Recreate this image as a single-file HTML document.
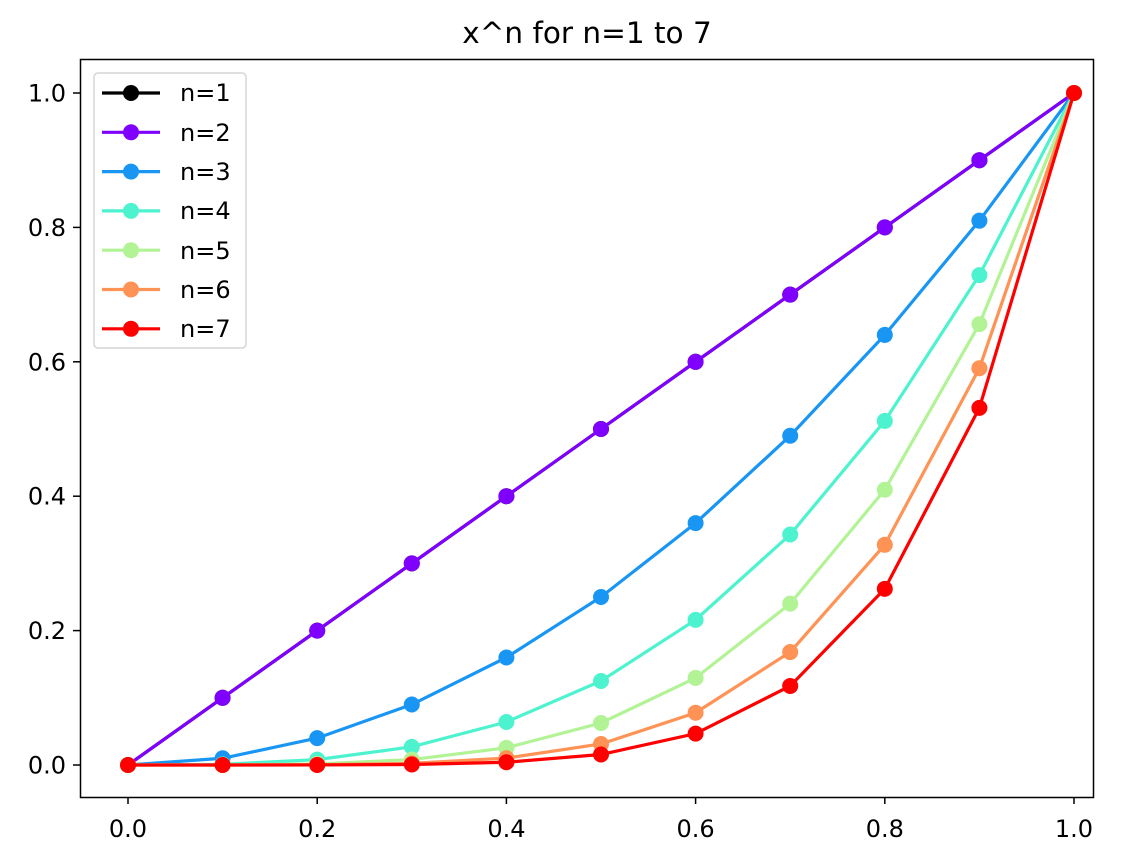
<!DOCTYPE html>
<html><head><meta charset="utf-8"><style>
body{margin:0;background:#fff}
svg{display:block;font-family:"DejaVu Sans","Liberation Sans",sans-serif}
</style></head><body>
<svg id="s" width="1141" height="862" viewBox="0 0 1141 862">
<rect width="1141" height="862" fill="#fff"/>
<text x="587" y="43" font-size="29.5" text-anchor="middle" fill="#000">x^n for n=1 to 7</text>
<g id="ticks" font-size="24" fill="#000"></g>
<g id="series"></g>
<rect x="80.5" y="59.5" width="1013" height="738" fill="none" stroke="#000" stroke-width="1.5"/>
<rect x="94" y="73" width="152" height="275" rx="4" fill="#fff" fill-opacity="0.8" stroke="#d6d6d6" stroke-width="1.5"/>
<g id="leg" font-size="24" fill="#000">
<text x="180" y="101">n=1</text>
<text x="180" y="141">n=2</text>
<text x="180" y="180">n=3</text>
<text x="180" y="219">n=4</text>
<text x="180" y="259">n=5</text>
<text x="180" y="298">n=6</text>
<text x="180" y="337">n=7</text>
</g>
</svg>
<script>
const NS="http://www.w3.org/2000/svg";
function el(t,a,p){const e=document.createElementNS(NS,t);for(const k in a)e.setAttribute(k,a[k]);p.appendChild(e);return e;}
const X=v=>128+946*v, Y=v=>765-672*v;
const tk=document.getElementById('ticks');
for(let i=0;i<=5;i++){const v=i/5;
 el('line',{x1:X(v),x2:X(v),y1:797,y2:804,stroke:'#000','stroke-width':1.5},tk);
 const t=el('text',{x:X(v),y:837,'text-anchor':'middle'},tk);t.textContent=v.toFixed(1);
 el('line',{x1:73,x2:80,y1:Y(v),y2:Y(v),stroke:'#000','stroke-width':1.5},tk);
 const u=el('text',{x:66,y:Y(v)+8.5,'text-anchor':'end'},tk);u.textContent=v.toFixed(1);}
const cols=['#000000','#8000ff','#1996f3','#4df3ce','#b2f396','#ff9255','#ff0000'];
const pw=[1,1,2,3,4,5,6];
const g=document.getElementById('series');
cols.forEach((c,i)=>{
 let pts=[];for(let k=0;k<=10;k++){const x=k/10;pts.push([X(x),Y(Math.pow(x,pw[i]))]);}
 el('polyline',{points:pts.map(p=>p.join(',')).join(' '),fill:'none',stroke:c,'stroke-width':3.2},g);
 pts.forEach(p=>el('circle',{cx:p[0],cy:p[1],r:8,fill:c},g));
 const ly=93+i*39.3;
 el('line',{x1:102,x2:160,y1:ly,y2:ly,stroke:c,'stroke-width':3.2},g.parentNode);
 el('circle',{cx:131,cy:ly,r:8,fill:c},g.parentNode);
});
</script>
</body></html>
